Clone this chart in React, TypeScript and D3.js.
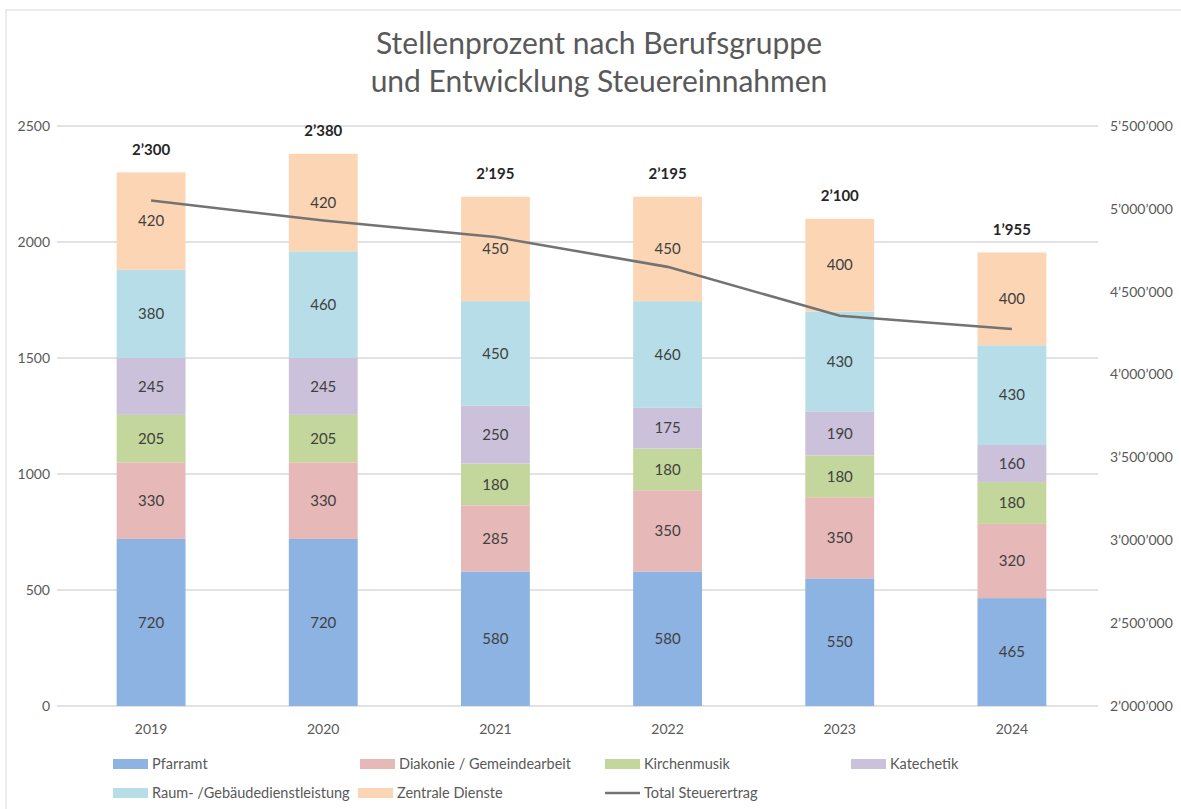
import React from "react";
import * as d3 from "d3";

const years = ["2019", "2020", "2021", "2022", "2023", "2024"];
const seriesNames = [
  "Pfarramt",
  "Diakonie / Gemeindearbeit",
  "Kirchenmusik",
  "Katechetik",
  "Raum- /Gebäudedienstleistung",
  "Zentrale Dienste",
];
const pfarramt = [720, 720, 580, 580, 550, 465];
const diakonie = [330, 330, 285, 350, 350, 320];
const kirchenmusik = [205, 205, 180, 180, 180, 180];
const katechetik = [245, 245, 250, 175, 190, 160];
const raum = [380, 460, 450, 460, 430, 430];
const zentrale = [420, 420, 450, 450, 400, 400];
const steuerertrag = [5050000, 4930000, 4830000, 4650000, 4355000, 4275000];
const leftTicks = [0, 500, 1000, 1500, 2000, 2500];
const rightTicks = [2000000, 2500000, 3000000, 3500000, 4000000, 4500000, 5000000, 5500000];
const lineName = "Total Steuerertrag";

const colors = ["#8DB3E2", "#E6B9B8", "#C3D69B", "#CCC1DA", "#B7DEE8", "#FCD5B5"];
const FONT = "Lato, 'Open Sans', sans-serif";

const fmt = (v: number) => {
  const s = Math.round(v).toString();
  return s.replace(/\B(?=(\d{3})+(?!\d))/g, "\u2019");
};

export default function App() {
  const W = 1181, H = 809;
  const left = 65, right = 1098, top = 126, bottom = 706;
  const values = [pfarramt, diakonie, kirchenmusik, katechetik, raum, zentrale];
  const rows = years.map((y, i) => {
    const r: any = { year: y };
    seriesNames.forEach((n, k) => (r[n] = values[k][i]));
    return r;
  });
  const stack = d3.stack<any>().keys(seriesNames)(rows);
  const x = d3.scaleBand().domain(years).range([left, right]).paddingInner(0.6).paddingOuter(0.3);
  const y = d3.scaleLinear().domain([0, 2500]).range([bottom, top]);
  const y2 = d3.scaleLinear().domain([2000000, 5500000]).range([bottom, top]);
  const line = d3
    .line<number>()
    .x((_, i) => (x(years[i]) as number) + x.bandwidth() / 2)
    .y((d) => y2(d));
  const totals = years.map((_, i) => values.reduce((s, v) => s + v[i], 0));

  const legendItems = [
    { name: seriesNames[0], c: colors[0], x: 113, y: 764 },
    { name: seriesNames[1], c: colors[1], x: 360, y: 764 },
    { name: seriesNames[2], c: colors[2], x: 605, y: 764 },
    { name: seriesNames[3], c: colors[3], x: 851, y: 764 },
    { name: seriesNames[4], c: colors[4], x: 113, y: 793 },
    { name: seriesNames[5], c: colors[5], x: 358, y: 793 },
  ];

  return (
    <svg width={W} height={H} style={{ position: "absolute", left: 0, top: 0, fontFamily: FONT }}>
      <rect x={0} y={0} width={W} height={H} fill="#fff" />
      <rect x={6} y={10} width={W + 10} height={H + 10} fill="none" stroke="#d9d9d9" strokeWidth={1} />
      <text x={599} y={54} textAnchor="middle" fontSize={30} fill="#595959">
        Stellenprozent nach Berufsgruppe
      </text>
      <text x={599} y={92} textAnchor="middle" fontSize={30} fill="#595959">
        und Entwicklung Steuereinnahmen
      </text>
      {leftTicks.map((t) => (
        <g key={t}>
          <line x1={left - 8} x2={right} y1={y(t)} y2={y(t)} stroke="#d9d9d9" strokeWidth={1.3} />
          <text x={50} y={y(t)} dy="0.35em" textAnchor="end" fontSize={14} fill="#595959">
            {t}
          </text>
        </g>
      ))}
      {rightTicks.map((t) => (
        <text key={t} x={1110} y={y2(t)} dy="0.35em" textAnchor="start" fontSize={14} fill="#595959">
          {fmt(t)}
        </text>
      ))}
      {stack.map((s, k) => (
        <g key={s.key}>
          {s.map((d, i) => {
            const bx = x(years[i]) as number;
            const y0 = y(d[0]), y1 = y(d[1]);
            return (
              <g key={i}>
                <rect x={bx} y={y1} width={x.bandwidth()} height={y0 - y1} fill={colors[k]} />
                <text
                  x={bx + x.bandwidth() / 2}
                  y={(y0 + y1) / 2}
                  dy="0.35em"
                  textAnchor="middle"
                  fontSize={15}
                  fill="#404040"
                >
                  {d[1] - d[0]}
                </text>
              </g>
            );
          })}
        </g>
      ))}
      {totals.map((t, i) => (
        <text
          key={i}
          x={(x(years[i]) as number) + x.bandwidth() / 2}
          y={y(t) - 23}
          dy="0.35em"
          textAnchor="middle"
          fontSize={15}
          fontWeight="bold"
          fill="#262626"
        >
          {fmt(t)}
        </text>
      ))}
      <path d={line(steuerertrag) || ""} fill="none" stroke="#737373" strokeWidth={2.6} />
      {years.map((yr) => (
        <text
          key={yr}
          x={(x(yr) as number) + x.bandwidth() / 2}
          y={729}
          dy="0.35em"
          textAnchor="middle"
          fontSize={14}
          fill="#595959"
        >
          {yr}
        </text>
      ))}
      {legendItems.map((l) => (
        <g key={l.name}>
          <rect x={l.x} y={l.y - 5} width={35} height={10} fill={l.c} />
          <text x={l.x + 39} y={l.y} dy="0.35em" fontSize={14.5} fill="#595959">
            {l.name}
          </text>
        </g>
      ))}
      <line x1={605} x2={640} y1={793} y2={793} stroke="#737373" strokeWidth={2.6} />
      <text x={644} y={793} dy="0.35em" fontSize={14.5} fill="#595959">
        {lineName}
      </text>
    </svg>
  );
}
